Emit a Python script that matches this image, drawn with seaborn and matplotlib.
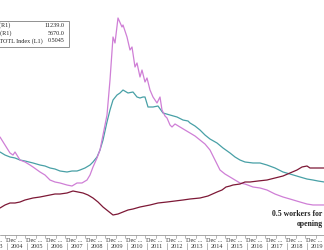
import matplotlib
matplotlib.use("Agg")
import matplotlib.pyplot as plt
import matplotlib.transforms as mtransforms
from matplotlib.patches import Rectangle
from matplotlib.lines import Line2D
import seaborn as sns

sns.set_style("white")
plt.rcParams['font.family'] = ['Liberation Serif', 'DejaVu Serif']

# ---- data (decimal years, values) ----
mag_years = [2003.65, 2003.90, 2004.15, 2004.30, 2004.40, 2004.65, 2004.90, 2005.15, 2005.30, 2005.65,
             2005.90, 2006.15, 2006.40, 2006.65, 2007.00, 2007.25, 2007.50, 2007.75, 2008.00, 2008.15,
             2008.30, 2008.50, 2008.65, 2008.80, 2009.00, 2009.15, 2009.30, 2009.40, 2009.55, 2009.75,
             2009.80, 2010.00, 2010.15, 2010.25, 2010.40, 2010.50, 2010.65, 2010.75, 2010.90, 2011.00,
             2011.15, 2011.30, 2011.50, 2011.65, 2011.75, 2011.90, 2012.00, 2012.15, 2012.25, 2012.40,
             2012.65, 2012.90, 2013.15, 2013.40, 2013.65, 2013.90, 2014.15, 2014.40, 2014.65, 2014.90,
             2015.15, 2015.40, 2015.65, 2015.90, 2016.30, 2016.65, 2017.00, 2017.40, 2017.80, 2018.15,
             2018.65, 2019.00, 2019.30, 2019.55, 2019.85]
mag_vals = [22120, 20180, 18250, 17760, 18490, 16550, 16070, 15340, 14860, 13650,
            12920, 11710, 11230, 10990, 10500, 10260, 10990, 10990, 11710, 12920,
            14860, 17040, 18970, 22600, 27440, 35910, 46320, 44870, 50920, 48740,
            49220, 46320, 43170, 43900, 39060, 40030, 36640, 38330, 35430, 36400,
            33490, 31800, 30350, 31800, 28650, 27200, 26720, 25020, 24540, 25270,
            24540, 23810, 23090, 22360, 21390, 20420, 18970, 16550, 14130, 13160,
            12440, 11710, 10990, 10740, 10020, 9780, 9290, 8320, 7600, 7110,
            6390, 5900, 5670, 5670, 5670]

teal_years = [2003.65, 2003.90, 2004.15, 2004.40, 2004.65, 2004.90, 2005.30, 2005.65, 2005.90, 2006.15,
              2006.40, 2006.65, 2007.00, 2007.25, 2007.50, 2007.65, 2007.90, 2008.15, 2008.30, 2008.50,
              2008.65, 2008.80, 2009.00, 2009.15, 2009.30, 2009.50, 2009.65, 2009.80, 2010.05, 2010.30,
              2010.50, 2010.65, 2010.80, 2010.90, 2011.05, 2011.30, 2011.55, 2011.80, 2012.15, 2012.50,
              2012.80, 2013.05, 2013.15, 2013.40, 2013.65, 2013.90, 2014.15, 2014.50, 2014.80, 2015.15,
              2015.40, 2015.65, 2015.90, 2016.30, 2016.65, 2017.00, 2017.40, 2017.80, 2018.15, 2018.65,
              2019.00, 2019.30, 2019.55, 2019.85]
teal_vals = [18490, 17760, 17280, 17040, 16550, 16310, 15830, 15340, 15100, 14620,
             14370, 13890, 13650, 13890, 13890, 14130, 14620, 15340, 16070, 17280,
             18970, 21390, 25750, 28650, 31070, 32280, 32770, 33490, 32770, 33010,
             31800, 31560, 31800, 31800, 29380, 29380, 29620, 27930, 27440, 26960,
             26230, 25990, 25510, 24780, 23810, 22600, 21630, 20670, 19460, 18250,
             17280, 16550, 16070, 15830, 15830, 15340, 14620, 13650, 13160, 12440,
             11950, 11710, 11470, 11239]

red_years = [2003.65, 2003.90, 2004.15, 2004.40, 2004.65, 2004.90, 2005.30, 2005.65, 2005.90, 2006.15,
             2006.40, 2006.65, 2007.00, 2007.30, 2007.55, 2007.80, 2008.05, 2008.30, 2008.55, 2008.80,
             2009.05, 2009.30, 2009.55, 2009.80, 2010.05, 2010.30, 2010.65, 2011.15, 2011.55, 2012.00,
             2012.40, 2012.80, 2013.15, 2013.65, 2014.05, 2014.50, 2014.75, 2014.95, 2015.15, 2015.30,
             2015.65, 2015.90, 2016.15, 2016.55, 2017.00, 2017.40, 2017.80, 2018.15, 2018.50, 2018.75,
             2019.00, 2019.15, 2019.30, 2019.55, 2019.85]
red_vals = [0.3445, 0.3565, 0.3645, 0.3645, 0.3685, 0.3765, 0.3845, 0.3885, 0.3925, 0.3965,
            0.4005, 0.4005, 0.4045, 0.4125, 0.4085, 0.4045, 0.3965, 0.3845, 0.3685, 0.3485,
            0.3325, 0.3165, 0.3205, 0.3285, 0.3365, 0.3405, 0.3485, 0.3565, 0.3645, 0.3685,
            0.3725, 0.3765, 0.3805, 0.3845, 0.3925, 0.4085, 0.4165, 0.4285, 0.4325, 0.4365,
            0.4405, 0.4485, 0.4485, 0.4525, 0.4565, 0.4645, 0.4725, 0.4845, 0.4965, 0.5085,
            0.5125, 0.5045, 0.5045, 0.5045, 0.5045]

year_labels = list(range(2003, 2021))
legend_names = ["Unemployed  (R1)", "Job Openings   (R1)", "JLTOTTOTL Index (L1)"]
legend_values = ["11239.0", "5670.0", "0.5045"]
annotation_lines = ["0.5 workers for each", "opening"]

MAG = "#cf7fd6"
TEAL = "#48a0a6"
RED = "#7d1836"

W, H = 324, 250
fig = plt.figure(figsize=(W / 100, H / 100), dpi=100)
fig.patch.set_facecolor("white")
ax = fig.add_axes([0, 16 / H, 1, 234 / H])
ax2 = ax.twinx()

sns.lineplot(x=teal_years, y=teal_vals, ax=ax2, color=TEAL, linewidth=0.9)
sns.lineplot(x=mag_years, y=mag_vals, ax=ax2, color=MAG, linewidth=0.9)
sns.lineplot(x=red_years, y=red_vals, ax=ax, color=RED, linewidth=0.9)
ax.set_zorder(ax2.get_zorder() + 1)
ax.patch.set_visible(False)

ax.set_xlim(2003.65, 2019.85)
ax2.set_xlim(2003.65, 2019.85)
ax.set_ylim(0.2405, 1.1765)
ax2.set_ylim(-1355, 55273)
for a in (ax, ax2):
    a.set_xlabel("")
    a.set_ylabel("")
    a.set_yticks([])
    a.set_xticks([])
    for s in a.spines.values():
        s.set_visible(False)

# Bloomberg-style date axis
def fy(px):
    return 1 - px / H

fig.add_artist(Line2D([0, 1], [fy(235), fy(235)], color="#9a9a9a", lw=0.6))
trans = mtransforms.blended_transform_factory(ax.transData, fig.transFigure)
for y in year_labels:
    dec = y - 1 / 12
    ax.text(dec + 0.02, fy(240), "Dec ...", transform=trans, ha="left", va="center",
            fontsize=4.5, color="#333333", clip_on=False)
    ax.text(y + 0.5, fy(246.5), str(y), transform=trans, ha="center", va="center",
            fontsize=4.5, color="#333333", clip_on=False)
    ax.add_line(Line2D([y, y], [fy(243), fy(250)], transform=trans, color="#9a9a9a",
                       lw=0.5, clip_on=False))
    ax.add_line(Line2D([dec, dec], [fy(235), fy(237.5)], transform=trans, color="#9a9a9a",
                       lw=0.5, clip_on=False))
    ax.add_line(Line2D([y + 0.45, y + 0.45], [fy(235), fy(237.5)], transform=trans,
                       color="#9a9a9a", lw=0.5, clip_on=False))

# legend box (partially off the left edge)
fig.add_artist(Rectangle((-5 / W, fy(46.5)), 73.5 / W, 25.5 / H, transform=fig.transFigure,
                         facecolor="white", edgecolor="#808080", lw=0.6))
rows_y = [25.5, 33.3, 41.0]
name_right = [10.5, 11.5, 42.5]
for nm, val, ry, xr in zip(legend_names, legend_values, rows_y, name_right):
    fig.text(xr / W, fy(ry), nm, ha="right", va="center", fontsize=4.4, color="#222222")
    fig.text(64.5 / W, fy(ry), val, ha="right", va="center", fontsize=4.4, color="#222222")

# annotation
fig.text(272 / W, fy(214), annotation_lines[0], ha="left", va="center", fontsize=5.6,
         fontweight="bold", color="#222222")
fig.text(297 / W, fy(224), annotation_lines[1], ha="left", va="center", fontsize=5.6,
         fontweight="bold", color="#222222")

fig.savefig("out.png", dpi=100, facecolor="white")
